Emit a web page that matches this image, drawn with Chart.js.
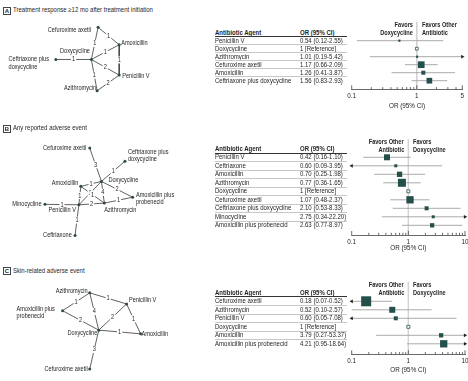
<!DOCTYPE html>
<html><head><meta charset="utf-8">
<script src="https://cdn.jsdelivr.net/npm/chart.js@4.4.1/dist/chart.umd.min.js"></script>
<style>
html,body{margin:0;padding:0}
body{width:468px;height:381px;overflow:hidden;background:#fff;position:relative;font-family:'Liberation Sans',Arial,sans-serif;color:#1f1f1f}
.t{position:absolute;white-space:nowrap;font-size:7px;line-height:8px;height:8px}
.b{font-weight:bold}
canvas{position:absolute}
.box{position:absolute;border:0.8px solid #444;font-size:6px;font-weight:bold;width:6px;height:6px;line-height:6px;text-align:center}
.rule{position:absolute}
</style></head><body>
<canvas id="netA"></canvas><canvas id="netB"></canvas><canvas id="netC"></canvas>
<canvas id="forA"></canvas><canvas id="forB"></canvas><canvas id="forC"></canvas>
<script>
// ================= DATA =================
// Panel A: Treatment response >=12 mo
const agentsA = ["Penicillin V","Doxycycline","Azithromycin","Cefuroxime axetil","Amoxicillin","Ceftriaxone plus doxycycline"];
const orA = [0.54, 1, 1.01, 1.17, 1.26, 1.56];
const loA = [0.12, null, 0.19, 0.66, 0.41, 0.83];
const hiA = [2.55, null, 5.42, 2.09, 3.87, 2.93];
const weightA = [2.2, 2.8, 2.2, 6.7, 4, 5.7];
const ticksA = [0.1, 1, 5];

// Panel B: Any reported adverse event
const agentsB = ["Penicillin V","Ceftriaxone","Amoxicillin","Azithromycin","Doxycycline","Cefuroxime axetil","Ceftriaxone plus doxycycline","Minocycline","Amoxicillin plus probenecid"];
const orB = [0.42, 0.60, 0.70, 0.77, 1, 1.07, 2.10, 2.75, 2.63];
const loB = [0.16, 0.09, 0.25, 0.36, null, 0.48, 0.53, 0.34, 0.77];
const hiB = [1.10, 3.95, 1.98, 1.65, null, 2.37, 8.33, 22.20, 8.97];
const weightB = [6, 3, 5.3, 8, 3, 7.3, 4, 3, 4.3];
const ticksB = [0.1, 1, 10];

// Panel C: Skin-related adverse event
const agentsC = ["Cefuroxime axetil","Azithromycin","Penicillin V","Doxycycline","Amoxicillin","Amoxicillin plus probenecid"];
const orC = [0.18, 0.52, 0.60, 1, 3.79, 4.21];
const loC = [0.07, 0.10, 0.05, null, 0.27, 0.95];
const hiC = [0.52, 2.57, 7.08, null, 53.37, 18.64];
const weightC = [10, 6, 4, 3, 4.3, 7.3];
const ticksC = [0.1, 1, 10];

// Network graphs: node names, layout positions, edges [from, to, number of studies]
const netNodesA = ["Cefuroxime axetil","Amoxicillin","Doxycycline","Ceftriaxone plus doxycycline","Penicillin V","Azithromycin"];
const netXA = [98, 120, 91, 54, 120, 97];
const netYA = [24, 43, 59, 59, 76, 93];
const netEdgesA = [[0,1,1],[0,2,1],[2,1,1],[2,3,1],[2,4,2],[2,5,1],[1,4,1],[5,4,2]];

const netNodesB = ["Cefuroxime axetil","Ceftriaxone plus doxycycline","Doxycycline","Amoxicillin","Amoxicillin plus probenecid","Azithromycin","Penicillin V","Minocycline","Ceftriaxone"];
const netXB = [89.3, 126, 101.5, 80, 134, 104.5, 78, 42.7, 74];
const netYB = [145, 159, 180.7, 186, 197.7, 204, 205.8, 205.3, 238.7];
const netEdgesB = [[0,2,3],[2,1,1],[3,2,1],[2,4,2],[2,5,4],[2,6,1],[3,5,1],[3,6,1],[4,5,1],[6,5,2],[7,6,1],[6,8,1]];

const netNodesC = ["Azithromycin","Penicillin V","Amoxicillin plus probenecid","Doxycycline","Amoxicillin","Cefuroxime axetil"];
const netXC = [89.3, 127.7, 61, 98.7, 142.3, 89.3];
const netYC = [290, 302, 309.3, 330.3, 334.3, 372.3];
const netEdgesC = [[0,2,1],[0,1,1],[0,3,4],[2,3,2],[3,1,2],[3,4,1],[1,4,1],[3,5,3]];

// ================= STYLE / LAYOUT =================
const FONT = "'Liberation Sans',Arial,sans-serif";
Chart.defaults.font.family = FONT;
Chart.defaults.font.size = 6.3;
Chart.defaults.color = '#1f1f1f';
const DARK = '#24504c', CI = '#a0a0a0', INK = '#1f1f1f';
const SX_TABLE = 0.86, SX_FAV = 0.8, SX_NET = 0.8;

// label placement per node: [align, dx, dy]
const placeA = [['right',-7,3],['left',2,-1.5],['right',-1.5,-8.3],['left',-47.3,0],['left',3,1.3],['right',-1,-3]];
const placeB = [['right',-3.5,0],['left',3,-9],['left',7,-1],['right',-2.5,-3],['left',3.3,-2.2],['left',0,6.6],['right',-3,5],['right',-3.4,0],['right',-3.3,-0.3]];
const placeC = [['right',-2,-2.3],['left',2.3,-3.7],['left',-46,-2],['right',-1.4,3],['left',1,0.7],['right',-2,0]];

function txt(x, y, s, cls, align, sx) {
  const d = document.createElement('div');
  d.className = 't ' + (cls || '');
  d.textContent = s;
  d.style.top = (y - 4) + 'px';
  if (align === 'right') { d.style.right = (468 - x) + 'px'; d.style.transformOrigin = 'right center'; }
  else { d.style.left = x + 'px'; d.style.transformOrigin = 'left center'; }
  d.style.transform = 'scaleX(' + (sx || SX_TABLE) + ')';
  document.body.appendChild(d);
  return d;
}
function rule(x, y, w, h, c) {
  const d = document.createElement('div');
  d.className = 'rule';
  Object.assign(d.style, {left: x + 'px', top: y + 'px', width: w + 'px', height: h + 'px', background: c});
  document.body.appendChild(d);
}
function header(letter, y, title) {
  const b = document.createElement('div');
  b.className = 'box'; b.textContent = letter;
  b.style.left = '3px'; b.style.top = (y - 3.5) + 'px';
  document.body.appendChild(b);
  txt(12.5, y, title);
}
function place(cv, x, y, w, h) {
  cv.width = w; cv.height = h;
  Object.assign(cv.style, {left: x + 'px', top: y + 'px', width: w + 'px', height: h + 'px'});
}
function sText(ctx, s, x, y, sx) {
  ctx.save(); ctx.translate(x, y); ctx.scale(sx, 1); ctx.fillText(s, 0, 0); ctx.restore();
}

function network(id, box, names, xs, ys, edges, pl) {
  const cv = document.getElementById(id);
  place(cv, box.x0, box.y0, box.x1 - box.x0, box.y1 - box.y0);
  const nodes = names.map((n, i) => ({x: xs[i], y: ys[i]}));
  const datasets = [{type: 'scatter', data: nodes, pointRadius: 1.5, pointBackgroundColor: '#2f4a48', pointBorderWidth: 0}];
  edges.forEach(([a, b]) => datasets.push({type: 'line', data: [nodes[a], nodes[b]], borderColor: '#3a3a3a', borderWidth: 0.8, pointRadius: 0, clip: false}));
  new Chart(cv, {
    type: 'scatter', data: {datasets},
    options: {responsive: false, animation: false, events: [], layout: {padding: 0},
      scales: {x: {type: 'linear', display: false, min: box.x0, max: box.x1},
               y: {type: 'linear', display: false, min: box.y0, max: box.y1, reverse: true}},
      plugins: {legend: {display: false}, tooltip: {enabled: false}}},
    plugins: [{id: 'netlabels', afterDatasetsDraw(chart) {
      const ctx = chart.ctx, sx = chart.scales.x, sy = chart.scales.y;
      ctx.save();
      ctx.font = '7px ' + FONT; ctx.textBaseline = 'middle';
      edges.forEach(([a, b, n]) => {
        const px = (sx.getPixelForValue(nodes[a].x) + sx.getPixelForValue(nodes[b].x)) / 2;
        const py = (sy.getPixelForValue(nodes[a].y) + sy.getPixelForValue(nodes[b].y)) / 2;
        const s = String(n), w = ctx.measureText(s).width * SX_NET;
        ctx.fillStyle = '#fff'; ctx.fillRect(px - w / 2 - 1, py - 3.5, w + 2, 7);
        ctx.fillStyle = INK; ctx.textAlign = 'center'; sText(ctx, s, px, py, SX_NET);
      });
      names.forEach((n, i) => {
        const [al, dx, dy] = pl[i];
        const px = sx.getPixelForValue(nodes[i].x) + dx, py = sy.getPixelForValue(nodes[i].y) + dy;
        ctx.textAlign = al; ctx.fillStyle = INK;
        const k = n.indexOf(' plus ');
        if (k > 0) { sText(ctx, n.slice(0, k + 5), px, py, SX_NET); sText(ctx, n.slice(k + 6), px, py + 7.3, SX_NET); }
        else sText(ctx, n, px, py, SX_NET);
      });
      ctx.restore();
    }}]
  });
}

function tickValues(lo, hi) {
  const v = [];
  for (let d = lo; d < hi; d *= 10) for (let k = 1; k <= 9; k++) { const t = Number((k * d).toPrecision(3)); if (t <= hi) v.push(t); }
  if (v[v.length - 1] !== hi) v.push(hi);
  return v;
}

function forest(id, box, g, agents, or, lo, hi, weight, labels) {
  const cv = document.getElementById(id);
  place(cv, box.left, box.top, box.width, box.height);
  const xmin = labels[0], xmax = labels[labels.length - 1];
  const yTop = (g.top - g.row0) / g.step, yBot = (g.axisY - g.row0) / g.step;
  const tv = tickValues(xmin, xmax);
  const datasets = [];
  datasets.push({type: 'scatter', data: agents.map((a, i) => ({x: or[i], y: i})), pointStyle: 'rect',
    pointRadius: weight.map(s => s / Math.SQRT2),
    pointBackgroundColor: lo.map(l => l == null ? '#fff' : DARK),
    pointBorderColor: DARK, pointBorderWidth: lo.map(l => l == null ? 0.8 : 0), clip: false});
  agents.forEach((a, i) => {
    if (lo[i] == null) return;
    const l = Math.max(lo[i], xmin), h = Math.min(hi[i], xmax);
    datasets.push({type: 'line', data: [{x: l, y: i}, {x: h, y: i}], borderColor: CI, borderWidth: 0.9,
      pointStyle: 'triangle', pointRadius: [lo[i] < xmin ? 2.2 : 0, hi[i] > xmax ? 2.2 : 0],
      pointRotation: [-90, 90], pointBackgroundColor: '#222', pointBorderWidth: 0, clip: false});
  });
  datasets.push({type: 'line', data: [{x: 1, y: yTop}, {x: 1, y: yBot}], borderColor: '#d2d2d2', borderWidth: 1, pointRadius: 0});
  new Chart(cv, {
    type: 'scatter', data: {datasets},
    options: {responsive: false, animation: false, events: [],
      layout: {padding: {left: g.left - box.left, right: box.left + box.width - g.right, top: g.top - box.top, bottom: 0}},
      scales: {
        x: {type: 'logarithmic', min: xmin, max: xmax,
          afterBuildTicks(s) { s.ticks = tv.map(v => ({value: v})); },
          afterFit(s) { s.height = box.top + box.height - g.axisY; },
          grid: {display: false, drawTicks: false, tickLength: 0}, border: {display: true, color: '#444', width: 0.8},
          ticks: {autoSkip: false, maxRotation: 0, minRotation: 0, padding: 3, color: INK,
            callback: v => labels.includes(v) ? String(v) : ''},
          title: {display: true, text: 'OR (95% CI)', color: INK, padding: {top: 0, bottom: 0}}},
        y: {type: 'linear', display: false, min: yTop, max: yBot, reverse: true}},
      plugins: {legend: {display: false}, tooltip: {enabled: false}}},
    plugins: [{id: 'inticks', afterDraw(chart) {
      const ctx = chart.ctx, sx = chart.scales.x, y = chart.chartArea.bottom;
      ctx.save(); ctx.strokeStyle = '#444'; ctx.lineWidth = 0.8; ctx.beginPath();
      sx.ticks.forEach(t => { const px = sx.getPixelForValue(t.value); const len = labels.includes(t.value) ? 4 : 2.2;
        ctx.moveTo(px, y); ctx.lineTo(px, y - len); });
      ctx.stroke(); ctx.restore();
    }}]
  });
}

function table(agents, or, lo, hi, g) {
  txt(g.x0, g.headY, 'Antibiotic Agent', 'b');
  txt(g.xOR, g.headY, 'OR (95% CI)', 'b');
  rule(g.x0, g.headY + 3.5, g.x1 - g.x0, 1, '#333');
  agents.forEach((a, i) => {
    const y = g.row0 + i * g.step;
    txt(g.x0, y, a);
    txt(g.xOR, y, lo[i] == null ? '1 [Reference]' : `${or[i].toFixed(2)} (${lo[i].toFixed(2)}-${hi[i].toFixed(2)})`);
    if (i < agents.length - 1) rule(g.x0, y + g.step / 2 - 0.3, g.x1 - g.x0, 0.6, '#c8c8c8');
  });
}

function favors(xRef, y, leftLines, rightLines) {
  leftLines.forEach((s, i) => txt(xRef - 4.5, y + i * 8.3, s, 'b', 'right', SX_FAV));
  rightLines.forEach((s, i) => txt(xRef + 4.5, y + i * 8.3, s, 'b', 'left', SX_FAV));
}

// ================= BUILD =================
header('A', 10.3, 'Treatment response \u226512 mo after treatment initiation');
header('B', 128, 'Any reported adverse event');
header('C', 270.5, 'Skin-related adverse event');

network('netA', {x0: 0, x1: 200, y0: 15, y1: 115}, netNodesA, netXA, netYA, netEdgesA, placeA);
network('netB', {x0: 0, x1: 200, y0: 132, y1: 250}, netNodesB, netXB, netYB, netEdgesB, placeB);
network('netC', {x0: 0, x1: 200, y0: 275, y1: 381}, netNodesC, netXC, netYC, netEdgesC, placeC);

table(agentsA, orA, loA, hiA, {x0: 215, x1: 347, xOR: 300, headY: 32.8, row0: 40.7, step: 8});
table(agentsB, orB, loB, hiB, {x0: 215, x1: 347, xOR: 300, headY: 149.3, row0: 157.3, step: 8.5});
table(agentsC, orC, loC, hiC, {x0: 215, x1: 347, xOR: 300, headY: 292.7, row0: 301.3, step: 8.5});

forest('forA', {left: 340, top: 15, width: 128, height: 95}, {left: 351.7, right: 462.3, top: 22, axisY: 89.3, row0: 40.7, step: 8}, agentsA, orA, loA, hiA, weightA, ticksA);
forest('forB', {left: 340, top: 132, width: 135, height: 120}, {left: 351.7, right: 465, top: 139, axisY: 235, row0: 157.3, step: 8.5}, agentsB, orB, loB, hiB, weightB, ticksB);
forest('forC', {left: 340, top: 274, width: 135, height: 100}, {left: 351.7, right: 465, top: 281.5, axisY: 354.3, row0: 301.3, step: 8.5}, agentsC, orC, loC, hiC, weightC, ticksC);

favors(417.7, 25, ['Favors', 'Doxycycline'], ['Favors Other', 'Antibiotic']);
favors(408.3, 141.7, ['Favors Other', 'Antibiotic'], ['Favors', 'Doxycycline']);
favors(408.3, 285, ['Favors Other', 'Antibiotic'], ['Favors', 'Doxycycline']);
</script>
</body></html>
